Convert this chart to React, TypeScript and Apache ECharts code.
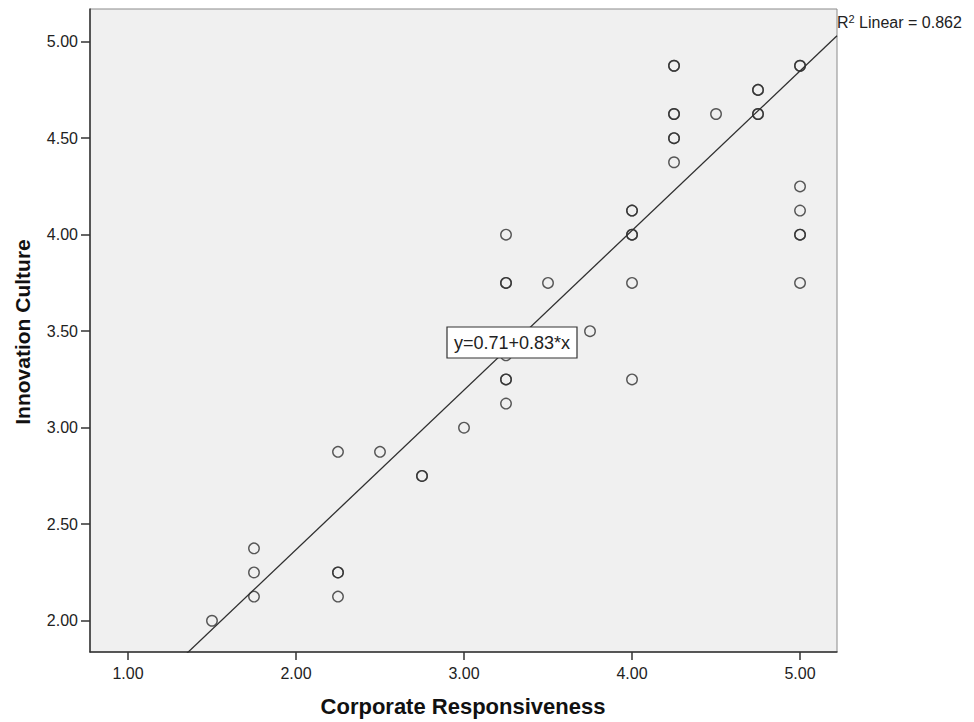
import React, { useEffect, useRef } from "react";
import * as echarts from "echarts";

// Corporate Responsiveness (x) and Innovation Culture (y); repeated pairs are overlapping cases
const crValues = [
  1.5, 1.75, 1.75, 1.75, 2.25, 2.25, 2.25, 2.25, 2.5, 2.75, 2.75, 3.0,
  3.25, 3.25, 3.25, 3.25, 3.25, 3.25, 3.25, 3.5, 3.75,
  4.0, 4.0, 4.0, 4.0, 4.0, 4.0,
  4.25, 4.25, 4.25, 4.25, 4.25, 4.25, 4.25, 4.5,
  4.75, 4.75, 4.75, 4.75,
  5.0, 5.0, 5.0, 5.0, 5.0, 5.0, 5.0,
];
const icValues = [
  2.0, 2.375, 2.25, 2.125, 2.875, 2.25, 2.25, 2.125, 2.875, 2.75, 2.75, 3.0,
  4.0, 3.75, 3.75, 3.375, 3.25, 3.25, 3.125, 3.75, 3.5,
  4.125, 4.125, 4.0, 4.0, 3.75, 3.25,
  4.875, 4.875, 4.625, 4.625, 4.5, 4.5, 4.375, 4.625,
  4.75, 4.75, 4.625, 4.625,
  4.875, 4.875, 4.25, 4.125, 4.0, 4.0, 3.75,
];
const xTicks = [1, 2, 3, 4, 5];
const yTicks = [2, 2.5, 3, 3.5, 4, 4.5, 5];
const fitIntercept = 0.7146;
const fitSlope = 0.8267;
const equationText = "y=0.71+0.83*x";
const r2Text = "0.862";
const xTitle = "Corporate Responsiveness";
const yTitle = "Innovation Culture";

const X_MIN = 0.774;
const X_MAX = 5.22;
const Y_MIN = 1.838;
const Y_MAX = 5.169;

export default function App() {
  const ref = useRef<HTMLDivElement>(null);
  useEffect(() => {
    document.body.style.margin = "0";
    const chart = echarts.init(ref.current!, undefined, { renderer: "svg" });
    const points = crValues.map((x, i) => [x, icValues[i]]);
    const fitLine = [
      [X_MIN, fitIntercept + fitSlope * X_MIN],
      [X_MAX, fitIntercept + fitSlope * X_MAX],
    ];
    const font = "Liberation Sans, Arial, sans-serif";
    chart.setOption({
      animation: false,
      backgroundColor: "#ffffff",
      grid: {
        left: 90,
        top: 9,
        right: 137,
        bottom: 70,
        show: true,
        backgroundColor: "#f0f0f0",
        borderColor: "#8a8a8a",
        borderWidth: 1,
      },
      xAxis: {
        type: "value",
        min: X_MIN,
        max: X_MAX,
        splitLine: { show: false },
        axisLine: { show: true, onZero: false, lineStyle: { color: "#333", width: 1.5 } },
        axisTick: {
          show: true,
          inside: false,
          length: 8,
          customValues: xTicks,
          lineStyle: { color: "#333", width: 1.5 },
        },
        axisLabel: {
          customValues: xTicks,
          formatter: (v: number) => v.toFixed(2),
          color: "#222",
          fontFamily: font,
          fontSize: 16,
          margin: 13,
        },
      },
      yAxis: {
        type: "value",
        min: Y_MIN,
        max: Y_MAX,
        splitLine: { show: false },
        axisLine: { show: true, onZero: false, lineStyle: { color: "#333", width: 1.5 } },
        axisTick: {
          show: true,
          inside: false,
          length: 9,
          customValues: yTicks,
          lineStyle: { color: "#333", width: 1.5 },
        },
        axisLabel: {
          customValues: yTicks,
          formatter: (v: number) => v.toFixed(2),
          color: "#222",
          fontFamily: font,
          fontSize: 16,
          margin: 12,
        },
      },
      series: [
        {
          type: "line",
          data: fitLine,
          symbol: "none",
          clip: true,
          lineStyle: { color: "#2f2f2f", width: 1.3 },
          z: 3,
        },
        {
          type: "scatter",
          data: points,
          symbol: "circle",
          symbolSize: 10.5,
          itemStyle: { color: "transparent", borderColor: "#303030", borderWidth: 1.4 },
          z: 4,
        },
      ],
      graphic: [
        {
          type: "rect",
          shape: { x: 447, y: 327, width: 130, height: 31 },
          style: { fill: "#ffffff", stroke: "#333", lineWidth: 1.2 },
          z: 10,
        },
        {
          type: "text",
          x: 512,
          y: 343,
          style: {
            text: equationText,
            fill: "#222",
            font: `18px ${font}`,
            align: "center",
            verticalAlign: "middle",
          },
          z: 11,
        },
        {
          type: "text",
          x: 837,
          y: 13,
          style: {
            text: `{r|R}{s|2}{r| Linear = ${r2Text}}`,
            rich: {
              r: { fontFamily: font, fontSize: 16, fill: "#222", verticalAlign: "bottom" },
              s: { fontFamily: font, fontSize: 11, fill: "#222", verticalAlign: "top", padding: [0, 0, 6, 0] },
            },
            verticalAlign: "top",
          },
          z: 11,
        },
        {
          type: "text",
          x: 463,
          y: 706,
          style: {
            text: xTitle,
            fill: "#111",
            font: `bold 22px ${font}`,
            align: "center",
            verticalAlign: "middle",
          },
        },
        {
          type: "text",
          x: 22,
          y: 332,
          rotation: Math.PI / 2,
          style: {
            text: yTitle,
            fill: "#111",
            font: `bold 21px ${font}`,
            align: "center",
            verticalAlign: "middle",
          },
        },
      ],
    });
    return () => chart.dispose();
  }, []);
  return (
    <div
      ref={ref}
      style={{ position: "absolute", left: 0, top: 0, width: 974, height: 722 }}
    />
  );
}
